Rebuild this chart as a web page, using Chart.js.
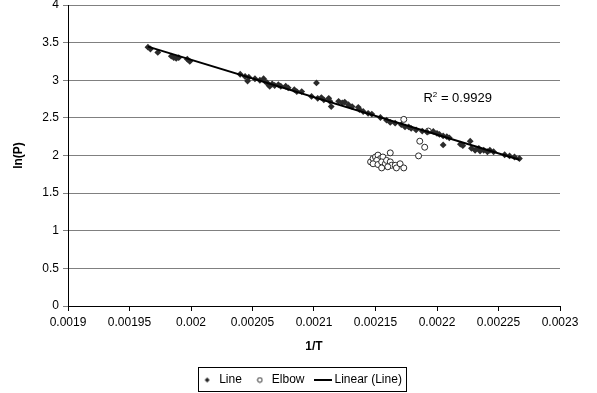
<!DOCTYPE html>
<html>
<head>
<meta charset="utf-8">
<script src="https://cdn.jsdelivr.net/npm/chart.js@4"></script>
<style>
    html, body { margin: 0; padding: 0; background: #fff; }
</style>
</head>
<body>
<canvas id="myChart" width="597" height="393"></canvas>
<script>
// "Line" series (filled diamonds)
const lineX = [
    0.001965, 0.001967, 0.001973, 0.001984, 0.001986, 0.001988, 0.00199, 0.001997, 0.001999,
    0.00204, 0.002044, 0.002046, 0.002047, 0.002052, 0.002056, 0.002059, 0.00206, 0.002062,
    0.002063, 0.002064, 0.002066, 0.002068, 0.002071, 0.002073, 0.002077, 0.002079, 0.002084,
    0.002086, 0.00209, 0.002098, 0.002102, 0.002103, 0.002106, 0.002108, 0.002112, 0.002113,
    0.002114, 0.00212, 0.002123, 0.002125, 0.002128, 0.002131, 0.002136, 0.002137, 0.00214,
    0.002144, 0.002147, 0.002154, 0.002159, 0.002162, 0.002166, 0.002171, 0.002174, 0.002177,
    0.002179, 0.002183, 0.002188, 0.002192, 0.002197, 0.0022, 0.002202, 0.002205, 0.002208,
    0.00221, 0.002205, 0.002219, 0.002221, 0.002227, 0.002228, 0.002231, 0.002234, 0.002235,
    0.002238, 0.002241, 0.002243, 0.002246, 0.002255, 0.002259, 0.002263, 0.002267
];
const lineY = [
    3.44, 3.415, 3.37, 3.32, 3.30, 3.29, 3.30, 3.28, 3.25,
    3.08, 3.05, 2.99, 3.04, 3.02, 3.00, 3.02, 2.99, 2.965,
    2.94, 2.92, 2.95, 2.93, 2.94, 2.92, 2.92, 2.90, 2.875,
    2.85, 2.85, 2.785, 2.965, 2.76, 2.77, 2.74, 2.76, 2.72,
    2.65, 2.72, 2.70, 2.71, 2.675, 2.65, 2.64, 2.61, 2.585,
    2.56, 2.55, 2.505, 2.47, 2.44, 2.43, 2.41, 2.38, 2.38,
    2.36, 2.34, 2.325, 2.31, 2.32, 2.295, 2.28, 2.26, 2.25,
    2.235, 2.14, 2.15, 2.13, 2.19, 2.095, 2.07, 2.095, 2.06,
    2.07, 2.05, 2.07, 2.05, 2.01, 1.995, 1.98, 1.96
];

// "Elbow" series (open circles)
const elbowX = [
    0.002173, 0.002193, 0.002186, 0.00219, 0.002185, 0.002162, 0.002146, 0.002148, 0.00215,
    0.002152, 0.002154, 0.002156, 0.002151, 0.002148, 0.002152, 0.002155, 0.002158, 0.002159,
    0.002162, 0.002163, 0.002166, 0.00216, 0.002155, 0.002167, 0.00217, 0.002173
];
const elbowY = [
    2.48, 2.325, 2.19, 2.11, 1.995, 2.035, 1.915, 1.96, 1.98,
    2.005, 1.96, 1.98, 1.935, 1.89, 1.88, 1.915, 1.89, 1.935,
    1.915, 1.87, 1.87, 1.85, 1.835, 1.835, 1.89, 1.835
];

const xTickLabels = ['0.0019', '0.00195', '0.002', '0.00205', '0.0021', '0.00215', '0.0022', '0.00225', '0.0023'];
const yTickLabels = ['0', '0.5', '1', '1.5', '2', '2.5', '3', '3.5', '4'];
const r2Text = '0.9929';

const FONT = '"Liberation Sans", Arial, sans-serif';

function toPoints(xs, ys) {
    return xs.map((x, i) => ({ x: x, y: ys[i] }));
}

// least squares trend line through the "Line" series
function linearFit(xs, ys) {
    const n = xs.length;
    let sx = 0, sy = 0, sxx = 0, sxy = 0;
    for (let i = 0; i < n; i++) {
        sx += xs[i]; sy += ys[i];
        sxx += xs[i] * xs[i]; sxy += xs[i] * ys[i];
    }
    const m = (n * sxy - sx * sy) / (n * sxx - sx * sx);
    const b = (sy - m * sx) / n;
    return { m: m, b: b };
}

const fit = linearFit(lineX, lineY);
const xMin = Math.min(...lineX), xMax = Math.max(...lineX);
const trendPoints = [
    { x: xMin, y: fit.m * xMin + fit.b },
    { x: xMax, y: fit.m * xMax + fit.b }
];

function makeIcon(w, h, draw) {
    const c = document.createElement('canvas');
    c.width = w;
    c.height = h;
    draw(c.getContext('2d'));
    return c;
}

const diamondIcon = makeIcon(7, 7, g => {
    g.fillStyle = '#222';
    g.beginPath();
    g.moveTo(3.5, 1); g.lineTo(6, 3.5); g.lineTo(3.5, 6); g.lineTo(1, 3.5);
    g.closePath();
    g.fill();
});
const circleIcon = makeIcon(7, 7, g => {
    g.strokeStyle = '#222';
    g.lineWidth = 1;
    g.beginPath();
    g.arc(3.5, 3.5, 2.3, 0, Math.PI * 2);
    g.stroke();
});
const lineIcon = makeIcon(18, 4, g => {
    g.fillStyle = '#000';
    g.fillRect(0, 1, 18, 2);
});

const extras = {
    id: 'extras',
    afterLayout(chart) {
        // centre the legend on the canvas and drop it a little
        // (the legend plugin recomputes its hit boxes afterwards)
        const lg = chart.legend;
        const h = lg.bottom - lg.top;
        lg.left = 6;
        lg.right = chart.width;
        lg.width = lg.right - lg.left;
        lg.top += 8;
        lg.bottom = lg.top + h;
    },
    afterDraw(chart) {
        const ctx = chart.ctx;
        const xs = chart.scales.x, ys = chart.scales.y;

        // R^2 label
        ctx.save();
        ctx.fillStyle = '#000';
        ctx.textBaseline = 'alphabetic';
        let px = xs.getPixelForValue(0.002189);
        const py = ys.getPixelForValue(2.715);
        ctx.font = '13px ' + FONT;
        ctx.fillText('R', px, py);
        px += ctx.measureText('R').width;
        ctx.font = '8px ' + FONT;
        ctx.fillText('2', px, py - 5);
        px += ctx.measureText('2').width;
        ctx.font = '13px ' + FONT;
        ctx.fillText(' = ' + r2Text, px, py);

        // box round the legend
        const boxes = chart.legend.legendHitBoxes;
        if (boxes && boxes.length) {
            const left = Math.min(...boxes.map(b => b.left)) - 3;
            const right = Math.max(...boxes.map(b => b.left + b.width)) + 4;
            const top = Math.min(...boxes.map(b => b.top)) - 7;
            const bottom = Math.max(...boxes.map(b => b.top + b.height)) + 5;
            ctx.strokeStyle = '#000';
            ctx.lineWidth = 1;
            ctx.strokeRect(Math.round(left) + 0.5, Math.round(top) + 0.5, Math.round(right - left), Math.round(bottom - top));
        }
        ctx.restore();
    }
};

window.onload = function() {
    const ctx = document.getElementById('myChart').getContext('2d');

    new Chart(ctx, {
        type: 'scatter',
        data: {
            datasets: [{
                label: 'Line',
                data: toPoints(lineX, lineY),
                pointStyle: 'rectRot',
                pointRadius: 3.4,
                backgroundColor: '#2b2b2b',
                borderColor: '#2b2b2b',
                borderWidth: 0,
                order: 1
            }, {
                label: 'Elbow',
                data: toPoints(elbowX, elbowY),
                pointStyle: 'circle',
                pointRadius: 3,
                backgroundColor: '#fff',
                borderColor: '#2b2b2b',
                borderWidth: 1,
                order: 2
            }, {
                label: 'Linear (Line)',
                data: trendPoints,
                showLine: true,
                pointRadius: 0,
                borderColor: '#000',
                borderWidth: 2,
                order: 0
            }]
        },
        options: {
            responsive: false,
            animation: false,
            layout: {
                padding: { left: 0, right: 37, top: 2, bottom: 5 }
            },
            plugins: {
                tooltip: { enabled: false },
                legend: {
                    position: 'bottom',
                    labels: {
                        color: '#000',
                        font: { family: FONT, size: 12 },
                        usePointStyle: true,
                        boxHeight: 8,
                        padding: 12,
                        sort: (a, b) => a.datasetIndex - b.datasetIndex,
                        generateLabels: function(chart) {
                            const icons = [diamondIcon, circleIcon, lineIcon];
                            return chart.data.datasets.map((ds, i) => ({
                                text: ds.label,
                                datasetIndex: i,
                                pointStyle: icons[i],
                                fontColor: '#000',
                                fillStyle: '#000',
                                strokeStyle: '#000',
                                lineWidth: 0,
                                hidden: false
                            }));
                        }
                    }
                }
            },
            scales: {
                x: {
                    type: 'linear',
                    min: 0.0019,
                    max: 0.0023,
                    afterFit: function(scale) { scale.height = 48; },
                    border: { color: '#000', width: 1 },
                    grid: {
                        drawOnChartArea: false,
                        drawTicks: true,
                        tickLength: 5,
                        color: '#000'
                    },
                    ticks: {
                        stepSize: 0.00005,
                        autoSkip: false,
                        maxRotation: 0,
                        padding: 4,
                        color: '#000',
                        font: { family: FONT, size: 12 },
                        callback: (v, i) => xTickLabels[i]
                    },
                    title: {
                        display: true,
                        text: '1/T',
                        color: '#000',
                        font: { family: FONT, size: 12, weight: 'bold' },
                        padding: { top: 4, bottom: 0 }
                    }
                },
                y: {
                    min: 0,
                    max: 4,
                    afterFit: function(scale) {
                        scale.width = 68;
                        scale.paddingTop = 4;
                    },
                    border: { color: '#000', width: 1 },
                    grid: {
                        color: '#808080',
                        tickLength: 5
                    },
                    ticks: {
                        stepSize: 0.5,
                        padding: 4,
                        color: '#000',
                        font: { family: FONT, size: 12 },
                        callback: (v, i) => yTickLabels[i]
                    },
                    title: {
                        display: true,
                        text: 'ln(P)',
                        color: '#000',
                        font: { family: FONT, size: 12, weight: 'bold' },
                        padding: { top: 11, bottom: 0 }
                    }
                }
            }
        },
        plugins: [extras]
    });
};
</script>
</body>
</html>
